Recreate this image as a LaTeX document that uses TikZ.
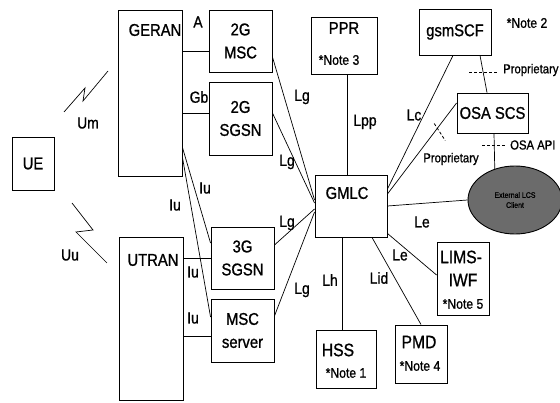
\documentclass[tikz,border=0pt]{standalone}
\usepackage{fontspec}
\setmainfont{Liberation Sans}[FakeStretch=0.87,FakeBold=1]
\usetikzlibrary{shapes.geometric}
\usetikzlibrary{calc}
\tikzset{
  % A network element box, width / height
  nebox/.style 2 args={
    draw=black, line width=0.9pt, fill=white, align=center,
    inner sep=0pt, minimum width=#1, minimum height=#2,
    font=\fontsize{17}{23}\selectfont},
  % Text set inside a box
  boxtxt/.style={inner sep=0pt, font=\fontsize{17}{20}\selectfont},
  bigtxt/.style={inner sep=0pt, font=\fontsize{18}{20}\selectfont},
  notetxt/.style={inner sep=0pt, font=\fontsize{14}{16}\selectfont},
  % Interface names
  lbl/.style={inner sep=0pt, font=\fontsize{16}{18}\selectfont},
  small/.style={inner sep=0pt, font=\fontsize{13}{15}\selectfont},
  % Connections
  link/.style={draw=black, line width=0.7pt},
  propmark/.style={draw=black, line width=0.8pt, dash pattern=on 3pt off 2pt},
  radio/.style={draw=black, line width=0.7pt, line join=miter},
}

\begin{document}
\begin{tikzpicture}[x=1pt, y=-1pt]
  \useasboundingbox (0,0) rectangle (560,403);

  % radio side
  \node[nebox={42pt}{53pt}] (ue) at (33,163.5) {UE};
  \node[nebox={64pt}{166pt}] (geran) at (150,93) {};
  \node[boxtxt] (gerantxt) at (155,30) {GERAN};
  \node[nebox={64pt}{163pt}] (utran) at (151,318.5) {};
  \node[boxtxt] (utrantxt) at (153,260) {UTRAN};

  \draw[radio] (64,112) -- (85,88) -- (83,101) -- (108,71);
  \draw[radio] (72,203) -- (93,230) -- (76,232) -- (107,263);
  \node[lbl] (um) at (88,123) {Um};
  \node[lbl] (uu) at (70,255) {Uu};

  % core network nodes
  \node[nebox={63pt}{62pt}] (msc2) at (240.5,41) {2G\\MSC};
  \node[nebox={63pt}{73pt}] (sgsn2) at (240.5,118.5) {2G\\SGSN};
  \node[nebox={63pt}{62pt}] (sgsn3) at (242.5,258) {3G\\SGSN};
  \node[nebox={63pt}{63pt}] (mscs) at (242.5,330.5) {MSC\\server};

  \node[nebox={72pt}{62pt}] (gmlc) at (351,206) {};
  \node[boxtxt] (gmlctxt) at (347,193) {GMLC};

  \node[nebox={66pt}{57pt}] (ppr) at (344,45.5) {};
  \node[boxtxt] (pprtxt) at (344,28) {PPR};
  \node[notetxt] (pprnote) at (339,60) {*Note 3};

  \node[nebox={72pt}{46pt}] (gsmscf) at (455,32) {gsmSCF};
  \node[notetxt] (scfnote) at (527,23) {*Note 2};
  \node[nebox={71pt}{40pt}] (osascs) at (492.5,113) {OSA SCS};

  \node[ellipse, draw=black, line width=0.9pt, fill=black!58,
        minimum width=94pt, minimum height=68pt, inner sep=0pt,
        align=center, font=\fontsize{8}{10}\selectfont]
        (client) at (515,200) {External LCS\\Client};

  \node[nebox={52pt}{73pt}] (lims) at (463,278.5) {};
  \node[bigtxt] (limstxt) at (461,257) {LIMS-};
  \node[bigtxt] (iwftxt) at (463,280) {IWF};
  \node[notetxt] (limsnote) at (463,304) {*Note 5};

  \node[nebox={60pt}{58pt}] (hss) at (346,359) {};
  \node[bigtxt] (hsstxt) at (338,350) {HSS};
  \node[notetxt] (hssnote) at (346,373) {*Note 1};

  \node[nebox={52pt}{58pt}] (pmd) at (421,354) {};
  \node[bigtxt] (pmdtxt) at (419,342) {PMD};
  \node[notetxt] (pmdnote) at (420,366) {*Note 4};

  % RAN to core
  \draw[link] ([yshift=-10pt]msc2.west) -- ([yshift=-10pt]msc2.west -| geran.east);
  \draw[link] ([yshift=5.5pt]sgsn2.west) -- ([yshift=5.5pt]sgsn2.west -| geran.east);
  \draw[link] (sgsn3.west) -- (sgsn3.west -| utran.east);
  \draw[link] ([yshift=-5.5pt]mscs.west) -- ([yshift=-5.5pt]mscs.west -| utran.east);
  \draw[link] ([yshift=29pt]geran.south east) -- ([yshift=15pt]sgsn3.west);
  \draw[link] ([yshift=19pt]geran.south east) -- ([yshift=13.5pt]mscs.west);
  \node[lbl] (a) at (198,22) {A};
  \node[lbl] (gb) at (199,97) {Gb};
  \node[lbl] (iu1) at (205,188) {Iu};
  \node[lbl] (iu2) at (175,205) {Iu};
  \node[lbl] (iu3) at (193,272) {Iu};
  \node[lbl] (iu4) at (193,318) {Iu};

  % Lg
  \draw[link] ([yshift=-16pt]msc2.east) -- ([yshift=6pt]gmlc.west);
  \draw[link] ([yshift=5.5pt]sgsn2.east) -- ([yshift=3pt]gmlc.west);
  \draw[link] ([yshift=13pt]sgsn3.east) -- ([yshift=-3pt]gmlc.west);
  \draw[link] ([yshift=14.5pt]mscs.east) -- ([yshift=-6pt]gmlc.west);
  \node[lbl] (lg1) at (302,97) {Lg};
  \node[lbl] (lg2) at (287,162) {Lg};
  \node[lbl] (lg3) at (287,223) {Lg};
  \node[lbl] (lg4) at (302,290) {Lg};

  % GMLC interfaces
  \draw[link] ([xshift=3pt]ppr.south) -- ([xshift=3pt]ppr.south |- gmlc.north);
  \node[lbl] (lpp) at (365,122) {Lpp};

  \draw[link] ([xshift=-2pt]gsmscf.south) -- ([yshift=17pt]gmlc.east);
  \node[lbl] (lc) at (414,115) {Lc};

  \draw[link] ([yshift=10pt]osascs.west) coordinate (osaw)
    -- ([yshift=12pt]gmlc.east) coordinate (gmlcne);
  \coordinate (pm2) at ($(osaw)!0.28!(gmlcne)$);
  \draw[propmark] ([shift={(-3pt,5pt)}]pm2) -- ([shift={(8pt,-12pt)}]pm2);
  \node[small] (prop2) at (451,159) {Proprietary};

  \draw[link] ([xshift=25pt]gsmscf.south) coordinate (scfs)
    -- ([xshift=-5.5pt]osascs.north) coordinate (osan);
  \coordinate (pm1) at ($(scfs)!0.45!(osan)$);
  \draw[propmark] ([xshift=-14pt]pm1) -- ([xshift=14pt]pm1);
  \node[small, anchor=west] (prop1) at (503,70) {Proprietary};

  \draw[link] ([xshift=1.5pt]osascs.south) coordinate (osas) -- (client.123) coordinate (clientn);
  \coordinate (pm3) at ($(osas)!0.34!(clientn)$);
  \draw[propmark] ([xshift=-12pt]pm3) -- ([xshift=12pt]pm3);
  \node[small, anchor=west] (osaapi) at (510,145) {OSA API};

  \draw[link] (gmlc.east) -- (client.west);
  \node[lbl] (le1) at (422,222) {Le};
  \draw[link] ([yshift=4pt]gmlc.south east) -- ([yshift=3.5pt]lims.west);
  \node[lbl] (le2) at (400,255) {Le};
  \draw[link] ([xshift=-9pt]gmlc.south) -- ([xshift=-9pt]gmlc.south |- hss.north);
  \node[lbl] (lh) at (330,280) {Lh};
  \draw[link] ([xshift=21pt]gmlc.south) -- (pmd.north);
  \node[lbl] (lid) at (379,278) {Lid};

\end{tikzpicture}
\end{document}
